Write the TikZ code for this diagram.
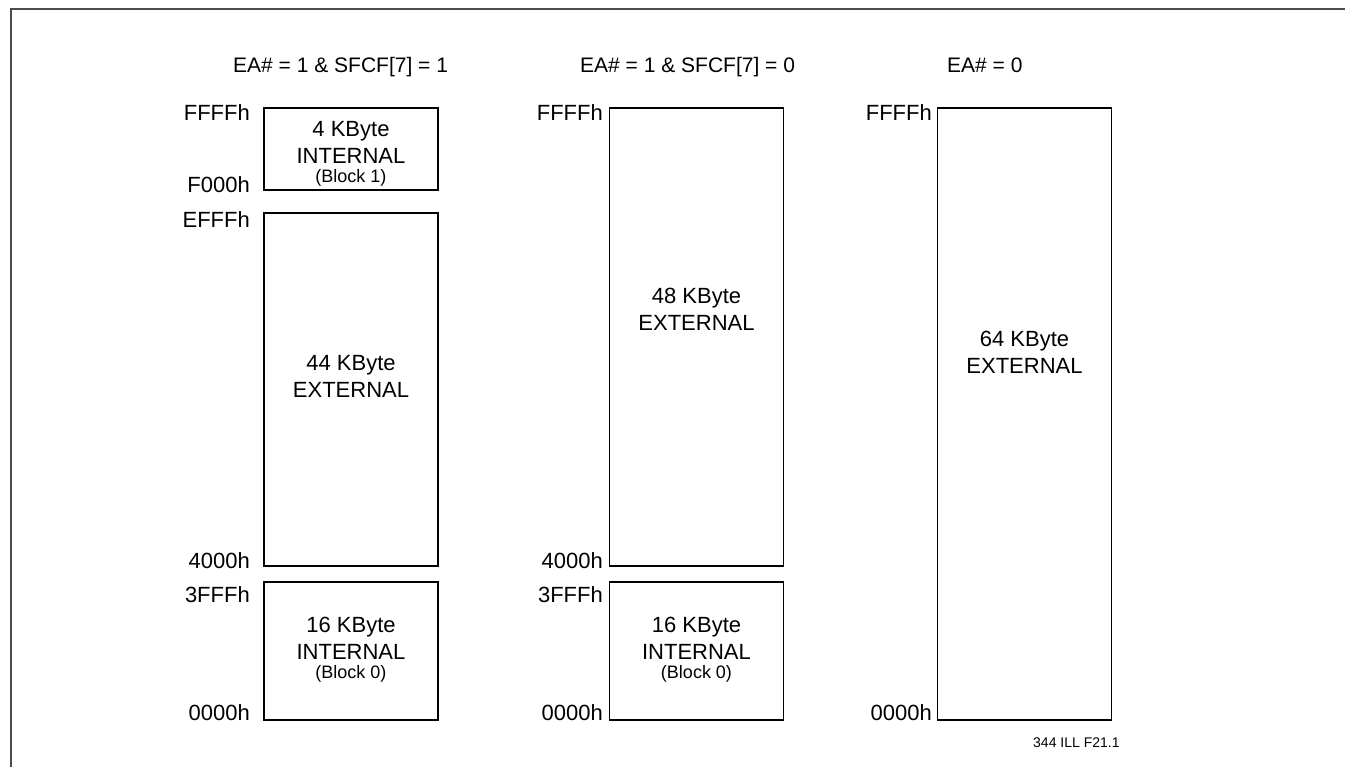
\documentclass[tikz,border=0pt]{standalone}
\usepackage{fontspec}
\setmainfont{Liberation Sans}
\usetikzlibrary{positioning}

\begin{document}
\begin{tikzpicture}[x=1pt, y=-1pt,
  every node/.style={font=\fontsize{22}{27}\selectfont, inner sep=0pt},
  mem/.style={draw, line width=1.5pt, minimum width=174pt, outer sep=0pt},
  addr/.style={anchor=base east},
  txt/.style={anchor=north, align=center},
  head/.style={anchor=base west, font=\fontsize{21}{25}\selectfont}]
  \useasboundingbox (0,0) rectangle (1345,767);
  % outer frame (cut off at right and bottom)
  \draw[black!70, line width=1.3pt] (11,780) -- (11,9) -- (1360,9);

  % column headers
  \node[head] (h1) at (233,73) {EA\# = 1 \& SFCF[7] = 1};
  \node[head] (h2) at (580,73) {EA\# = 1 \& SFCF[7] = 0};
  \node[head] (h3) at (947,73) {EA\# = 0};

  % column 1: split internal / external
  \node[mem, minimum height=82pt]  (int1) at (351,149) {};
  \node[mem, minimum height=353pt] (ext44) at (351,389.5) {};
  \node[mem, minimum height=138pt] (int0a) at (351,651) {};
  \node[txt] (t1) at (351,121.5) {4 KByte\\INTERNAL\\[-8pt]{\fontsize{18}{20}\selectfont (Block 1)}};
  \node[txt] (t2) at (351,355) {44 KByte\\EXTERNAL};
  \node[txt] (t3) at (351,616.5) {16 KByte\\INTERNAL\\[-8pt]{\fontsize{18}{20}\selectfont (Block 0)}};
  \node[addr] (a1) at (250,121) {FFFFh};
  \node[addr] (a2) at (250,193) {F000h};
  \node[addr] (a3) at (250,228) {EFFFh};
  \node[addr] (a4) at (250,568) {4000h};
  \node[addr] (a5) at (250,602) {3FFFh};
  \node[addr] (a6) at (250,720) {0000h};

  % column 2: internal block 0 only
  \node[mem, minimum height=458pt] (ext48) at (696.5,337) {};
  \node[mem, minimum height=138pt] (int0b) at (696.5,651) {};
  \node[txt] (t4) at (696.5,288) {48 KByte\\EXTERNAL};
  \node[txt] (t5) at (696.5,616.5) {16 KByte\\INTERNAL\\[-8pt]{\fontsize{18}{20}\selectfont (Block 0)}};
  \node[addr] (b1) at (603,121) {FFFFh};
  \node[addr] (b2) at (603,568) {4000h};
  \node[addr] (b3) at (603,602) {3FFFh};
  \node[addr] (b4) at (603,720) {0000h};

  % column 3: all external
  \node[mem, minimum height=612pt] (ext64) at (1024.5,414) {};
  \node[txt] (t6) at (1024.5,331) {64 KByte\\EXTERNAL};
  \node[addr] (c1) at (932,121) {FFFFh};
  \node[addr] (c2) at (932,720) {0000h};

  \node[head, font=\fontsize{14}{16}\selectfont] (fig) at (1033,747) {344 ILL F21.1};
\end{tikzpicture}
\end{document}
